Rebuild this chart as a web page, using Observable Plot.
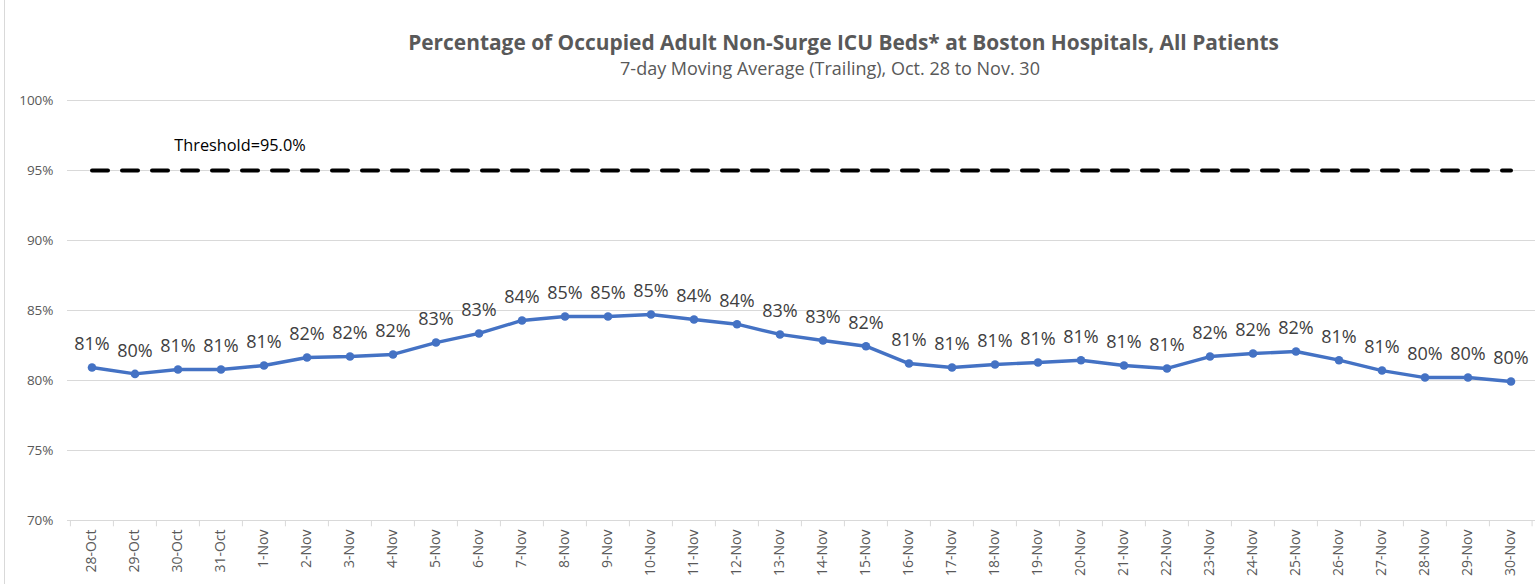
<!DOCTYPE html>
<html>
<head>
<meta charset="utf-8">
<script src="https://cdn.jsdelivr.net/npm/d3@7"></script>
<script src="https://cdn.jsdelivr.net/npm/@observablehq/plot@0.6"></script>
<style>
  html, body { margin: 0; padding: 0; background: #fff; }
  #wrap { position: relative; width: 1537px; height: 584px; overflow: hidden; font-family: "Open Sans", Lato, sans-serif; }
  #border { position: absolute; left: 4px; top: 0; width: 1px; height: 584px; background: #d9d9d9; }
  #head { height: 80px; text-align: center; color: #595959; padding-left: 150px; box-sizing: border-box; }
  #title { font-weight: bold; font-size: 20.9px; padding-top: 30px; line-height: 24px; }
  #subtitle { font-size: 18px; line-height: 20px; margin-top: 4px; padding-right: 27px; }
</style>
</head>
<body>
<div id="wrap">
  <div id="border"></div>
  <div id="head">
    <div id="title">Percentage of Occupied Adult Non-Surge ICU Beds* at Boston Hospitals, All Patients</div>
    <div id="subtitle">7-day Moving Average (Trailing), Oct. 28 to Nov. 30</div>
  </div>
  <div id="chart"></div>
</div>
<script>
const dates = ["28-Oct","29-Oct","30-Oct","31-Oct","1-Nov","2-Nov","3-Nov","4-Nov","5-Nov","6-Nov","7-Nov","8-Nov","9-Nov","10-Nov","11-Nov","12-Nov","13-Nov","14-Nov","15-Nov","16-Nov","17-Nov","18-Nov","19-Nov","20-Nov","21-Nov","22-Nov","23-Nov","24-Nov","25-Nov","26-Nov","27-Nov","28-Nov","29-Nov","30-Nov"];
const occupancy = [80.93,80.47,80.79,80.79,81.07,81.64,81.71,81.86,82.71,83.36,84.29,84.57,84.57,84.71,84.36,84.02,83.29,82.86,82.45,81.21,80.93,81.14,81.29,81.45,81.07,80.86,81.71,81.93,82.07,81.45,80.71,80.21,80.21,79.93];
const threshold = 95;
const thresholdLabel = "Threshold=95.0%";
const yTicks = [70,75,80,85,90,95,100];

const data = dates.map((d, i) => ({date: d, value: occupancy[i]}));
const W = 1537, H = 504, mL = 67, mR = 2;
const bw = (W - mL - mR) / dates.length;
const FONT = "'Open Sans', Lato, sans-serif";

const chart = Plot.plot({
  width: W,
  height: H,
  marginTop: 20,
  marginBottom: 64,
  marginLeft: mL,
  marginRight: mR,
  style: {fontFamily: FONT, color: "#595959", background: "#fff"},
  x: {type: "band", domain: dates, padding: 0, label: null},
  y: {domain: [70, 100], label: null},
  marks: [
    Plot.gridY(yTicks, {stroke: "#d9d9d9", strokeOpacity: 1, strokeWidth: 1}),
    Plot.ruleX(dates, {x: d => d, dx: -bw / 2, y1: 70, y2: 69.55, stroke: "#d9d9d9"}),
    Plot.ruleX([dates[dates.length - 1]], {x: d => d, dx: bw / 2 - 0.5, y1: 70, y2: 69.55, stroke: "#d9d9d9"}),
    Plot.axisY(yTicks, {tickSize: 0, tickPadding: 14, tickFormat: d => d + "%", fontSize: 13.5, fill: "#595959", label: null}),
    Plot.axisX(dates, {tickSize: 0, tickPadding: 9, tickRotate: -90, fontSize: 14, fill: "#595959", label: null}),
    Plot.line(dates.map(d => ({date: d, v: threshold})), {x: "date", y: "v", stroke: "#000", strokeWidth: 4, strokeDasharray: "16,14"}),
    Plot.text([thresholdLabel], {x: () => dates[3], y: () => threshold, text: d => d, dx: 19, dy: -25, fontSize: 16.3, fill: "#000"}),
    Plot.line(data, {x: "date", y: "value", stroke: "#4472C4", strokeWidth: 3.4}),
    Plot.dot(data, {x: "date", y: "value", r: 4.3, fill: "#4472C4", stroke: "none"}),
    Plot.text(data, {x: "date", y: "value", text: d => Math.round(d.value) + "%", dy: -23, fontSize: 18, fill: "#404040"})
  ]
});
document.getElementById("chart").appendChild(chart);
</script>
</body>
</html>
